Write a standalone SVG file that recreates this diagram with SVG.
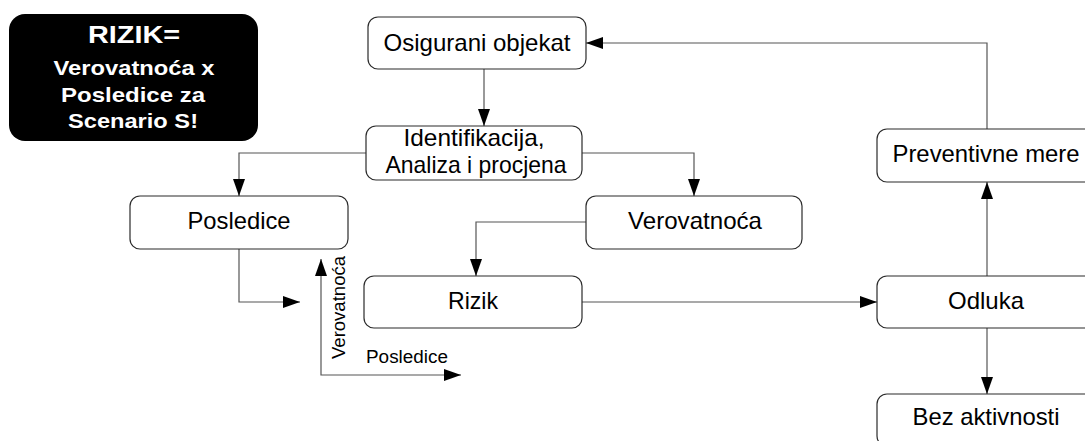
<svg xmlns="http://www.w3.org/2000/svg" width="1085" height="441" viewBox="0 0 1085 441">
  <style>
    .box { fill: #ffffff; stroke: #2b2b2b; stroke-width: 1.2; }
    .lbl { font-family: "Liberation Sans", Arial, sans-serif; font-size: 24px; fill: #000000; text-anchor: middle; }
    .sm { font-family: "Liberation Sans", Arial, sans-serif; font-size: 17.5px; fill: #000000; }
    .hd { font-family: "Liberation Sans", Arial, sans-serif; font-weight: bold; fill: #ffffff; text-anchor: middle; }
    .link { fill: none; stroke: #555555; stroke-width: 1.2; }
  </style>
  <defs>
    <marker id="arrow" viewBox="0 0 17 12" refX="17" refY="6" markerWidth="17" markerHeight="12" markerUnits="userSpaceOnUse" orient="auto-start-reverse">
      <path d="M0,0 L17,6 L0,12 z" fill="#000000"/>
    </marker>
  </defs>

  <rect width="1085" height="441" fill="#ffffff"/>

  <!-- formula panel -->
  <g id="formula">
    <rect x="9" y="14" width="249" height="127" rx="16" fill="#000000"/>
    <text class="hd" x="134" y="43" font-size="23.5" textLength="92" lengthAdjust="spacingAndGlyphs">RIZIK=</text>
    <text class="hd" x="134" y="75" font-size="21" textLength="161" lengthAdjust="spacingAndGlyphs">Verovatnoća x</text>
    <text class="hd" x="133" y="102" font-size="21" textLength="144" lengthAdjust="spacingAndGlyphs">Posledice za</text>
    <text class="hd" x="133" y="128" font-size="21" textLength="130" lengthAdjust="spacingAndGlyphs">Scenario S!</text>
  </g>

  <!-- connectors -->
  <g id="connectors">
    <path class="link" d="M484 69 V126" marker-end="url(#arrow)"/>
    <path class="link" d="M366 153 H239 V196" marker-end="url(#arrow)"/>
    <path class="link" d="M582 153 H694 V196" marker-end="url(#arrow)"/>
    <path class="link" d="M586 222 H476 V276" marker-end="url(#arrow)"/>
    <path class="link" d="M239 249 V302 H300" marker-end="url(#arrow)"/>
    <path class="link" d="M582 302 H877" marker-end="url(#arrow)"/>
    <path class="link" d="M987 276 V182" marker-end="url(#arrow)"/>
    <path class="link" d="M987 328 V394" marker-end="url(#arrow)"/>
    <path class="link" d="M987 129 V43 H586" marker-end="url(#arrow)"/>
    <!-- probability / consequence axes -->
    <path class="link" d="M321 259 V375 H461" marker-start="url(#arrow)" marker-end="url(#arrow)"/>
  </g>

  <g id="axis-labels">
    <text class="sm" transform="translate(345 359) rotate(-90)" font-size="18" textLength="103" lengthAdjust="spacingAndGlyphs">Verovatnoća</text>
    <text class="sm" x="366" y="363" textLength="82" lengthAdjust="spacingAndGlyphs">Posledice</text>
  </g>

  <!-- nodes -->
  <g id="osigurani-objekat">
    <rect class="box" x="368" y="17" width="218" height="52" rx="10"/>
    <text class="lbl" x="477" y="51" textLength="187" lengthAdjust="spacingAndGlyphs">Osigurani objekat</text>
  </g>
  <g id="identifikacija">
    <rect class="box" x="366" y="126" width="216" height="54" rx="10"/>
    <text class="lbl" x="474" y="146" textLength="141" lengthAdjust="spacingAndGlyphs">Identifikacija,</text>
    <text class="lbl" x="476" y="173" textLength="181" lengthAdjust="spacingAndGlyphs">Analiza i procjena</text>
  </g>
  <g id="posledice">
    <rect class="box" x="130" y="196" width="218" height="53" rx="10"/>
    <text class="lbl" x="239" y="229" textLength="103" lengthAdjust="spacingAndGlyphs">Posledice</text>
  </g>
  <g id="verovatnoca">
    <rect class="box" x="586" y="196" width="216" height="53" rx="10"/>
    <text class="lbl" x="695" y="229" textLength="134" lengthAdjust="spacingAndGlyphs">Verovatnoća</text>
  </g>
  <g id="rizik">
    <rect class="box" x="364" y="276" width="218" height="52" rx="10"/>
    <text class="lbl" x="473" y="309" textLength="50" lengthAdjust="spacingAndGlyphs">Rizik</text>
  </g>
  <g id="odluka">
    <rect class="box" x="877" y="276" width="220" height="52" rx="10"/>
    <text class="lbl" x="986" y="309" textLength="76" lengthAdjust="spacingAndGlyphs">Odluka</text>
  </g>
  <g id="preventivne-mere">
    <rect class="box" x="877" y="129" width="220" height="53" rx="10"/>
    <text class="lbl" x="986" y="162" textLength="187" lengthAdjust="spacingAndGlyphs">Preventivne mere</text>
  </g>
  <g id="bez-aktivnosti">
    <rect class="box" x="877" y="394" width="220" height="52" rx="10"/>
    <text class="lbl" x="986" y="425" textLength="147" lengthAdjust="spacingAndGlyphs">Bez aktivnosti</text>
  </g>
</svg>
